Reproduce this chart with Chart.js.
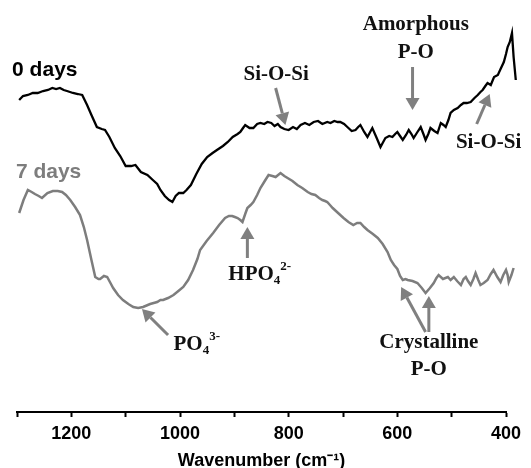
<!DOCTYPE html>
<html lang="en">
<head>
<meta charset="UTF-8" />
<title>FTIR spectra</title>
<script src="https://cdn.jsdelivr.net/npm/chart.js"></script>
<style>
  html, body { margin: 0; padding: 0; background: #fff; }
  #wrap { width: 531px; height: 468px; }
</style>
</head>
<body>
<div id="wrap"><canvas id="myChart" width="531" height="468"></canvas></div>
<script>
// wavenumber (cm-1), relative transmittance (arbitrary, offset)
const day0 = [
  [1296,312],[1289,316],[1280,317],[1271,319],[1262,319],[1252,321],[1243,322],[1235,324],[1228,323],[1221,324],
  [1214,322],[1208,321],[1197,319],[1188,318],[1180,317],[1171,307],[1163,297],[1153,285],[1144,283],[1138,282],
  [1130,275],[1120,264],[1110,256],[1100,246],[1090,246],[1082,247],[1072,240],[1060,237],[1050,232],[1042,228],
  [1036,222],[1028,216],[1020,212],[1014,210],[1008,216],[1002,219],[994,219],[988,222],[980,227],[970,238],
  [960,248],[950,255],[940,259],[932,262],[921,266],[912,270],[903,275],[894,278],[889,280],[884,284],
  [880,287],[872,284],[865,284],[858,288],[852,289],[845,288],[839,290],[832,289],[826,286],[820,288],
  [815,285],[808,283],[800,282],[792,285],[785,283],[778,287],[770,289],[762,287],[754,290],[746,291],
  [738,288],[729,290],[723,289],[716,291],[710,290],[705,290],[698,288],[692,285],[684,281],[677,282],
  [672,285],[668,287],[661,280],[655,275],[650,280],[646,284],[638,274],[631,265],[626,270],[622,274],
  [615,276],[609,275],[604,278],[600,280],[595,276],[590,272],[584,277],[579,282],[574,278],[570,274],
  [563,280],[557,285],[552,278],[548,272],[543,278],[539,284],[532,281],[526,279],[523,284],[520,289],
  [515,287],[511,285],[506,292],[502,299],[496,302],[489,304],[483,307],[478,309],[472,309],[465,310],
  [458,314],[452,317],[447,320],[443,322],[438,326],[434,329],[428,327],[422,335],[415,337],[410,343],
  [404,350],[400,358],[397,365],[393,370],[389,379],[386,355],[382,332]
];

const day7 = [
  [1296,199],[1288,212],[1280,222],[1273,220],[1267,218],[1260,216],[1254,214],[1244,219],[1234,221],[1225,221],
  [1217,220],[1210,217],[1202,212],[1193,205],[1184,197],[1177,185],[1171,172],[1163,152],[1156,135],[1150,133],
  [1147,133],[1140,136],[1134,135],[1128,129],[1123,124],[1114,117],[1105,112],[1095,108],[1086,105],[1077,104],
  [1068,105],[1055,108],[1042,110],[1036,112],[1031,112],[1022,114],[1012,117],[1003,121],[994,125],[985,132],
  [976,142],[968,153],[963,162],[951,171],[939,179],[928,187],[917,194],[910,196],[904,196],[899,195],
  [894,194],[889,192],[885,190],[880,198],[876,204],[870,207],[865,210],[858,217],[852,224],[844,231],
  [837,237],[830,236],[824,235],[815,239],[808,236],[802,234],[793,231],[784,227],[775,224],[765,220],
  [758,218],[751,217],[744,214],[738,212],[733,211],[729,210],[724,207],[719,204],[709,199],[699,194],
  [690,190],[681,187],[674,189],[668,189],[661,185],[655,182],[645,178],[636,174],[627,168],[618,160],
  [612,152],[606,147],[600,143],[595,136],[590,132],[585,133],[581,132],[572,131],[563,129],[555,124],
  [548,119],[540,124],[533,129],[528,134],[524,137],[516,133],[507,135],[502,132],[496,135],[490,131],
  [483,127],[478,133],[474,135],[470,131],[465,127],[460,133],[456,139],[451,132],[447,127],[441,129],
  [434,132],[428,138],[423,142],[416,135],[410,130],[405,137],[400,142],[397,137],[395,130],[390,137],
  [386,144]
];

const xTicks = [1300, 1200, 1100, 1000, 900, 800, 700, 600, 500, 400];
const labelledTicks = [1200, 1000, 800, 600, 400];

// annotation text, placed in data units
const labels = [
  { x: 1309, y: 342, parts: [['0 days', 0]], color: '#000', font: 'Arial', align: 'left' },
  { x: 1302, y: 240, parts: [['7 days', 0]], color: '#7d7d7d', font: 'Arial', align: 'left' },
  { x: 823, y: 337, parts: [['Si-O-Si', 0]], color: '#111', font: 'serif', align: 'center' },
  { x: 566, y: 387, parts: [['Amorphous', 0]], color: '#111', font: 'serif', align: 'center' },
  { x: 566, y: 359, parts: [['P-O', 0]], color: '#111', font: 'serif', align: 'center' },
  { x: 432, y: 269, parts: [['Si-O-Si', 0]], color: '#111', font: 'serif', align: 'center' },
  { x: 911, y: 137, parts: [['HPO', 0], ['4', -1], ['2-', 1]], color: '#111', font: 'serif', align: 'left' },
  { x: 1012, y: 67, parts: [['PO', 0], ['4', -1], ['3-', 1]], color: '#111', font: 'serif', align: 'left' },
  { x: 542, y: 69, parts: [['Crystalline', 0]], color: '#111', font: 'serif', align: 'center' },
  { x: 542, y: 42, parts: [['P-O', 0]], color: '#111', font: 'serif', align: 'center' }
];

// arrows: [fromX, fromY, toX, toY] in data units
const arrows = [
  [824, 324, 806, 287],
  [572, 345, 572, 302],
  [454, 288, 430, 318],
  [876, 154, 876, 185],
  [1022, 77, 1070, 103],
  [548, 80, 593, 125],
  [542, 80, 542, 116]
];

const annotPlugin = {
  id: 'annot',
  afterDatasetsDraw(chart) {
    const { ctx, scales } = chart;
    const sx = scales.x, sy = scales.y;
    ctx.save();
    ctx.strokeStyle = '#808080';
    ctx.fillStyle = '#808080';
    ctx.lineWidth = 3;
    arrows.forEach(a => {
      const x1 = sx.getPixelForValue(a[0]), y1 = sy.getPixelForValue(a[1]);
      const x2 = sx.getPixelForValue(a[2]), y2 = sy.getPixelForValue(a[3]);
      const ang = Math.atan2(y2 - y1, x2 - x1);
      const hl = 12, hw = 7;
      const bx = x2 - hl * Math.cos(ang), by = y2 - hl * Math.sin(ang);
      ctx.beginPath();
      ctx.moveTo(x1, y1);
      ctx.lineTo(bx, by);
      ctx.stroke();
      ctx.beginPath();
      ctx.moveTo(x2, y2);
      ctx.lineTo(bx + hw * Math.sin(ang), by - hw * Math.cos(ang));
      ctx.lineTo(bx - hw * Math.sin(ang), by + hw * Math.cos(ang));
      ctx.closePath();
      ctx.fill();
    });
    ctx.textBaseline = 'middle';
    labels.forEach(l => {
      const big = l.font === 'Arial' ? 'bold 21px "Liberation Sans", Arial, sans-serif'
                                     : 'bold 21px "Liberation Serif", "Times New Roman", serif';
      const small = 'bold 13px "Liberation Serif", "Times New Roman", serif';
      let total = 0;
      l.parts.forEach(p => { ctx.font = p[1] ? small : big; total += ctx.measureText(p[0]).width; });
      let px = sx.getPixelForValue(l.x);
      const py = sy.getPixelForValue(l.y);
      if (l.align === 'center') px -= total / 2;
      ctx.fillStyle = l.color;
      ctx.textAlign = 'left';
      l.parts.forEach(p => {
        ctx.font = p[1] ? small : big;
        const dy = p[1] === -1 ? 6 : (p[1] === 1 ? -8 : 0);
        ctx.fillText(p[0], px, py + dy);
        px += ctx.measureText(p[0]).width;
      });
    });
    ctx.restore();
  }
};

const toXY = arr => arr.map(p => ({ x: p[0], y: p[1] }));

new Chart(document.getElementById('myChart'), {
  type: 'line',
  data: {
    datasets: [
      { label: '0 days', data: toXY(day0), borderColor: '#000', borderWidth: 2.3, pointRadius: 0, tension: 0, clip: false },
      { label: '7 days', data: toXY(day7), borderColor: '#7d7d7d', borderWidth: 2.5, pointRadius: 0, tension: 0, clip: false }
    ]
  },
  options: {
    responsive: false,
    animation: false,
    layout: { padding: { left: 17, right: 25, top: 0, bottom: 0 } },
    plugins: { legend: { display: false }, tooltip: { enabled: false } },
    scales: {
      x: {
        type: 'linear',
        reverse: true,
        min: 400,
        max: 1300,
        afterBuildTicks: axis => { axis.ticks = xTicks.map(v => ({ value: v })); },
        afterFit: axis => { axis.height = 56; },
        ticks: {
          autoSkip: false,
          maxRotation: 0,
          padding: 6,
          color: '#000',
          font: { family: '"Liberation Sans", Arial, sans-serif', size: 18, weight: 'bold' },
          callback: v => labelledTicks.includes(v) ? String(v) : ''
        },
        grid: { drawOnChartArea: false, tickLength: 5, tickWidth: 2, tickColor: '#000' },
        border: { display: true, color: '#000', width: 2 },
        title: {
          display: true,
          text: 'Wavenumber (cm\u207B\u00B9)',
          color: '#000',
          font: { family: '"Liberation Sans", Arial, sans-serif', size: 18, weight: 'bold', lineHeight: 1 },
          padding: { top: 0, bottom: -2 }
        }
      },
      y: { display: false, min: 0, max: 412 }
    }
  },
  plugins: [annotPlugin]
});
</script>
</body>
</html>
